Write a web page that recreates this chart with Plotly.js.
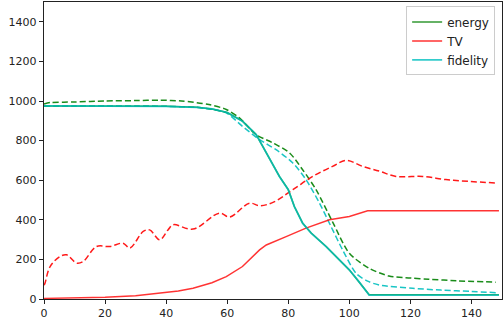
<!DOCTYPE html>
<html><head><meta charset="utf-8">
<script src="https://cdn.plot.ly/plotly-3.0.1.min.js"></script>
<style>html,body{margin:0;padding:0;background:#fff}#chart{width:504px;height:320px}</style>
</head><body><div id="chart"></div>
<script>
// Fidelity (solid) and energy (solid, mostly hidden under fidelity)
const fidX = [0, 10, 20, 30, 40, 50, 55, 60, 65, 69.5, 72.8, 77.1, 80, 82, 84.7, 87.5, 92.4, 96.7, 100, 103, 106.5, 108, 120, 130, 140, 149];
const fidY = [975, 975, 975, 975, 973, 968, 960, 942, 898, 830, 738, 619, 552, 467, 383, 333, 265, 197, 147, 90, 20, 20, 20, 20, 20, 20];
const enX = fidX;
const enY = [975, 975, 975, 975, 973, 968, 960, 942, 898, 830, 738, 619, 552, 467, 383, 333, 265, 197, 147, 90, 22, 22, 22, 22, 22, 22];
// Energy (dashed)
const enDX = [0, 2, 10, 20, 30, 38, 45, 54, 59.7, 64, 69.5, 75, 80.4, 84.7, 89.1, 94.5, 100, 106.5, 113, 120, 126, 135, 148];
const enDY = [985, 992, 995, 1000, 1002, 1004, 1000, 982, 957, 915, 830, 788, 738, 653, 552, 390, 231, 155, 116, 106, 100, 92, 85];
// Fidelity (dashed)
const fidDX = [0, 10, 20, 30, 40, 50, 55, 59.7, 65, 70.6, 76, 81.5, 85.8, 90.2, 94, 97.8, 102.2, 106, 109.8, 120.7, 130, 140, 148];
const fidDY = [975, 975, 975, 975, 973, 968, 958, 940, 872, 805, 754, 687, 603, 485, 366, 248, 130, 90, 71, 54, 45, 38, 32];
// TV (solid)
const tvX = [0, 10, 20, 30, 38, 44, 48.8, 55, 59.7, 65, 70.6, 72.8, 79.3, 85.8, 93.5, 100, 106, 110, 120, 130, 140, 149];
const tvY = [3, 5, 9, 16, 29, 40, 54, 82, 113, 164, 248, 273, 315, 358, 400, 417, 446, 446, 446, 446, 446, 446];
// TV (dashed)
const tvDX = [0, 0.3, 2, 5.2, 7.4, 10.7, 12.8, 17.2, 21.6, 25.9, 28.1, 32.5, 34.6, 37.9, 40.6, 42.3, 48.8, 57.5, 60.8, 67.3, 70.6, 75, 81.5, 88, 94.5, 99, 104.3, 110, 115.3, 124, 131.6, 139.2, 148];
const tvDY = [70, 79, 164, 214, 223, 181, 189, 265, 265, 282, 257, 341, 349, 299, 349, 375, 353, 434, 414, 484, 471, 488, 552, 619, 670, 700, 670, 645, 619, 619, 603, 594, 586];

const G = '#008000', R = '#ff0000', C = '#00bfbf';
const DASH = '6px,3px';
const traces = [
  {x: enDX, y: enDY, mode: 'lines', line: {color: G, width: 1.5, dash: DASH, shape: 'spline', smoothing: 0.8}, showlegend: false, opacity: 0.9},
  {x: tvDX, y: tvDY, mode: 'lines', line: {color: R, width: 1.5, dash: DASH, shape: 'spline', smoothing: 1}, showlegend: false, opacity: 0.9},
  {x: fidDX, y: fidDY, mode: 'lines', line: {color: C, width: 1.5, dash: DASH, shape: 'spline', smoothing: 0.8}, showlegend: false, opacity: 0.9},
  {x: enX, y: enY, mode: 'lines', name: 'energy', line: {color: G, width: 1.5}, opacity: 0.8},
  {x: tvX, y: tvY, mode: 'lines', name: 'TV', line: {color: R, width: 1.5}, opacity: 0.8},
  {x: fidX, y: fidY, mode: 'lines', name: 'fidelity', line: {color: C, width: 1.8}, opacity: 0.8}
];
const layout = {
  width: 504, height: 320,
  margin: {l: 44, r: 2, t: 2, b: 21},
  paper_bgcolor: '#fff', plot_bgcolor: '#fff',
  font: {family: 'DejaVu Sans', size: 11, color: '#222'},
  xaxis: {range: [0, 150], tickvals: [0, 20, 40, 60, 80, 100, 120, 140], showgrid: false, zeroline: false,
    showline: true, mirror: true, linecolor: '#222', linewidth: 1.2, ticks: 'outside', ticklen: 4, tickcolor: '#222'},
  yaxis: {range: [0, 1500], tickvals: [0, 200, 400, 600, 800, 1000, 1200, 1400], showgrid: false, zeroline: false,
    showline: true, mirror: true, linecolor: '#222', linewidth: 1.2, ticks: 'outside', ticklen: 4, tickcolor: '#222'},
  legend: {x: 0.985, y: 0.985, xanchor: 'right', yanchor: 'top', bgcolor: 'rgba(255,255,255,0.8)',
    bordercolor: '#ccc', borderwidth: 1, font: {size: 12, color: '#222'}, tracegroupgap: 0},
  showlegend: true
};
Plotly.newPlot('chart', traces, layout, {displayModeBar: false, staticPlot: true});
</script></body></html>
